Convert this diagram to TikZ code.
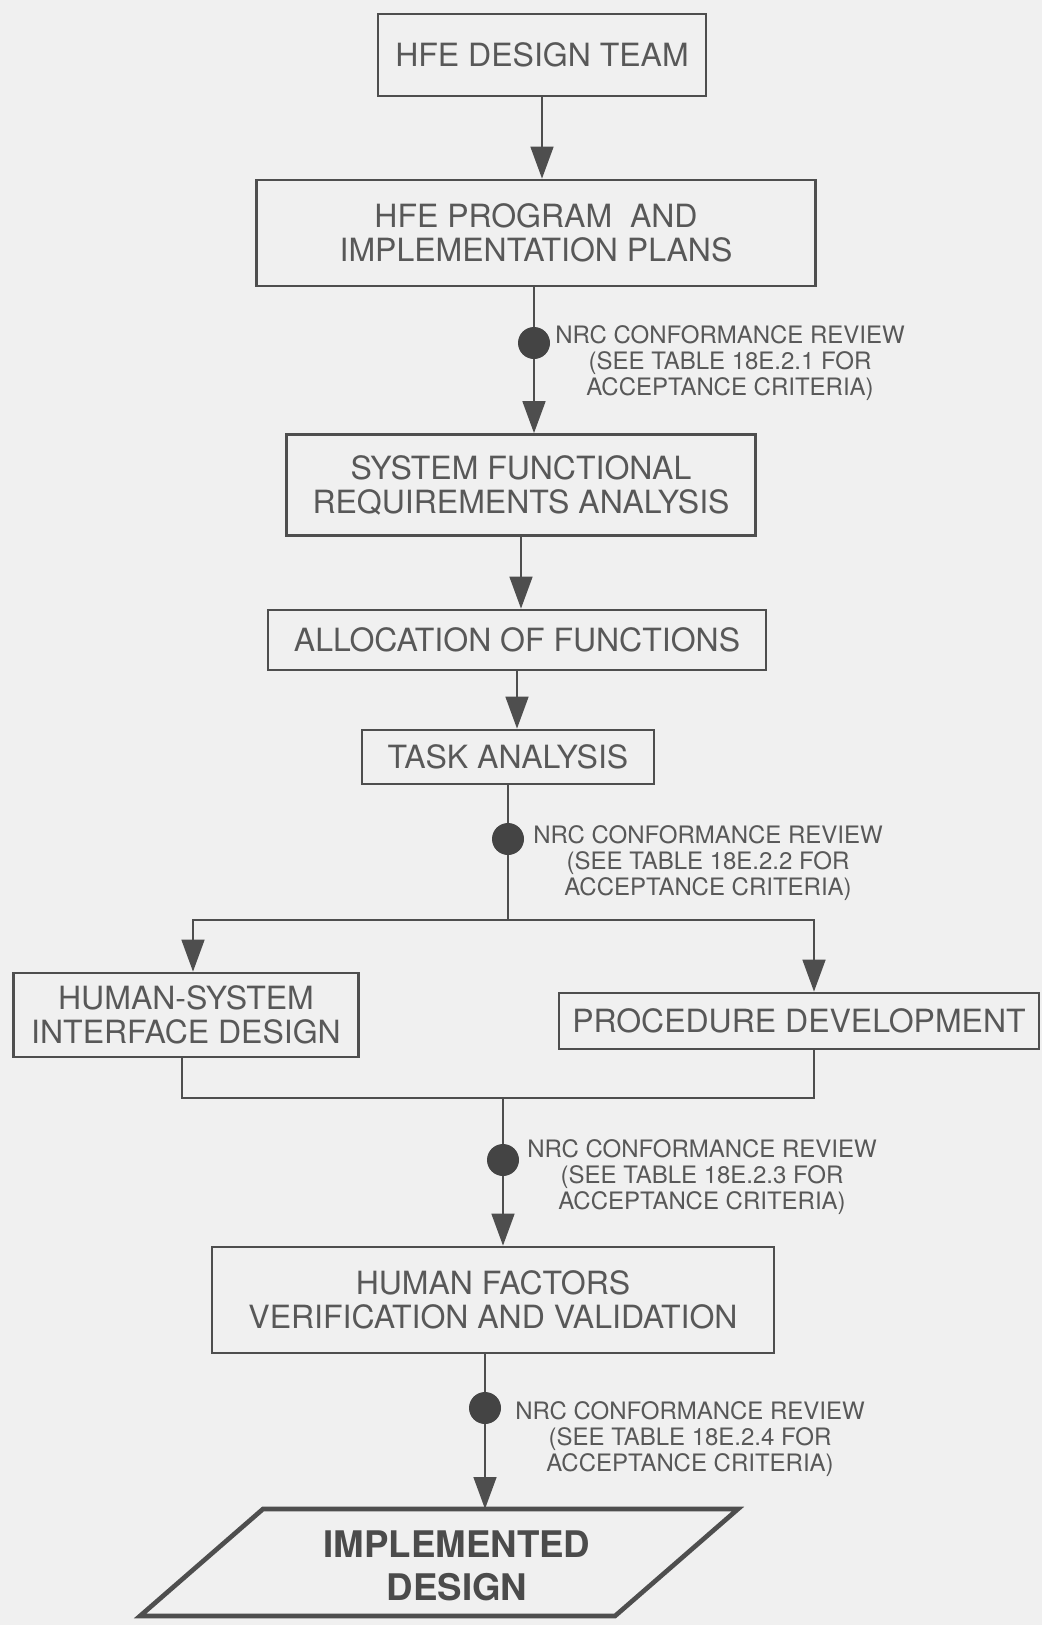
\documentclass[tikz,border=0pt]{standalone}
\usepackage{fontspec}
\setmainfont{TeX Gyre Heros}
\usetikzlibrary{arrows.meta}
\definecolor{ink}{RGB}{78,78,78}
\definecolor{txt}{RGB}{88,88,88}
\definecolor{bg}{RGB}{240,240,240}
\definecolor{dotc}{RGB}{68,68,68}
\begin{document}
\begin{tikzpicture}[x=0.75pt,y=-0.75pt,
  box/.style={draw=ink, line width=2pt, inner sep=0pt, align=center, text=txt, font=\fontsize{24}{25.5}\selectfont},
  arr/.style={draw=ink, line width=2pt, -{Triangle[width=17pt,length=24pt]}},
  conn/.style={draw=ink, line width=2pt},
  dotn/.style={circle, fill=dotc, minimum size=24pt, inner sep=0pt},
  lbl/.style={align=center, text=txt, font=\fontsize{18}{19.5}\selectfont, inner sep=0pt},
  para/.style={draw=ink, line width=3.5pt, line join=miter},
  bold/.style={align=center, text=txt!85!black, font=\fontsize{27.5}{32}\selectfont\bfseries, inner sep=0pt}
]
\fill[bg] (0,0) rectangle (1042,1625);
\useasboundingbox (0,0) rectangle (1042,1625);

% boxes
\node[box, minimum width=246pt, minimum height=61.5pt] (b1) at (542,55) {HFE DESIGN TEAM};
\node[box, minimum width=419.25pt, minimum height=79.5pt] (b2) at (536,233) {HFE PROGRAM\ \ AND\\IMPLEMENTATION PLANS};
\node[box, minimum width=351.75pt, minimum height=75.75pt] (b3) at (521,485) {SYSTEM FUNCTIONAL\\REQUIREMENTS ANALYSIS};
\node[box, minimum width=373.5pt, minimum height=45pt] (b4) at (517,640) {ALLOCATION OF FUNCTIONS};
\node[box, minimum width=219pt, minimum height=40.5pt] (b5) at (508,757) {TASK ANALYSIS};
\node[box, minimum width=258.75pt, minimum height=63pt] (hsi) at (186,1015) {HUMAN-SYSTEM\\INTERFACE DESIGN};
\node[box, minimum width=360pt, minimum height=42pt] (proc) at (799,1021) {PROCEDURE DEVELOPMENT};
\node[box, minimum width=421.5pt, minimum height=79.5pt] (hfv) at (493,1300) {HUMAN FACTORS\\VERIFICATION AND VALIDATION};

% final parallelogram
\coordinate (ptl) at (263,1509);
\coordinate (ptr) at (738,1509);
\coordinate (pbr) at (615,1616);
\coordinate (pbl) at (140,1616);
\draw[para] (ptl) -- (ptr) -- (pbr) -- (pbl) -- cycle;
\node[bold] (impl) at (457,1566) {IMPLEMENTED\\DESIGN};

% review dots and labels
\node[dotn] (d1) at (534,343) {};
\node[dotn] (d2) at (508,839) {};
\node[dotn] (d3) at (503,1160) {};
\node[dotn] (d4) at (485,1408) {};
\node[lbl] (l1) at (730,363) {NRC CONFORMANCE REVIEW\\(SEE TABLE 18E.2.1 FOR\\ACCEPTANCE CRITERIA)};
\node[lbl] (l2) at (708,863) {NRC CONFORMANCE REVIEW\\(SEE TABLE 18E.2.2 FOR\\ACCEPTANCE CRITERIA)};
\node[lbl] (l3) at (702,1177) {NRC CONFORMANCE REVIEW\\(SEE TABLE 18E.2.3 FOR\\ACCEPTANCE CRITERIA)};
\node[lbl] (l4) at (690,1439) {NRC CONFORMANCE REVIEW\\(SEE TABLE 18E.2.4 FOR\\ACCEPTANCE CRITERIA)};

% connectors
\draw[arr] (b1.south) -- (b1.south |- b2.north);
\draw[conn] (b2.south -| d1) -- (d1);
\draw[arr] (d1) -- (d1 |- b3.north);
\draw[arr] (b3.south) -- (b3.south |- b4.north);
\draw[arr] (b4.south) -- (b4.south |- b5.north);
\draw[conn] (b5.south) -- (d2);

\coordinate (j1) at (508,920);
\coordinate (sl) at (193,920);
\coordinate (sr) at (814,920);
\draw[conn] (d2) -- (j1);
\draw[arr] (j1) -- (sl) -- (sl |- hsi.north);
\draw[arr] (j1) -- (sr) -- (sr |- proc.north);

\coordinate (ml) at (182,1098);
\coordinate (mr) at (814,1098);
\coordinate (j2) at (503,1098);
\draw[conn] (hsi.south -| ml) -- (ml) -- (mr) -- (proc.south -| mr);
\draw[conn] (j2) -- (d3);
\draw[arr] (d3) -- (d3 |- hfv.north);

\draw[conn] (hfv.south -| d4) -- (d4);
\draw[arr] (d4) -- (d4 |- ptl);
\end{tikzpicture}
\end{document}
